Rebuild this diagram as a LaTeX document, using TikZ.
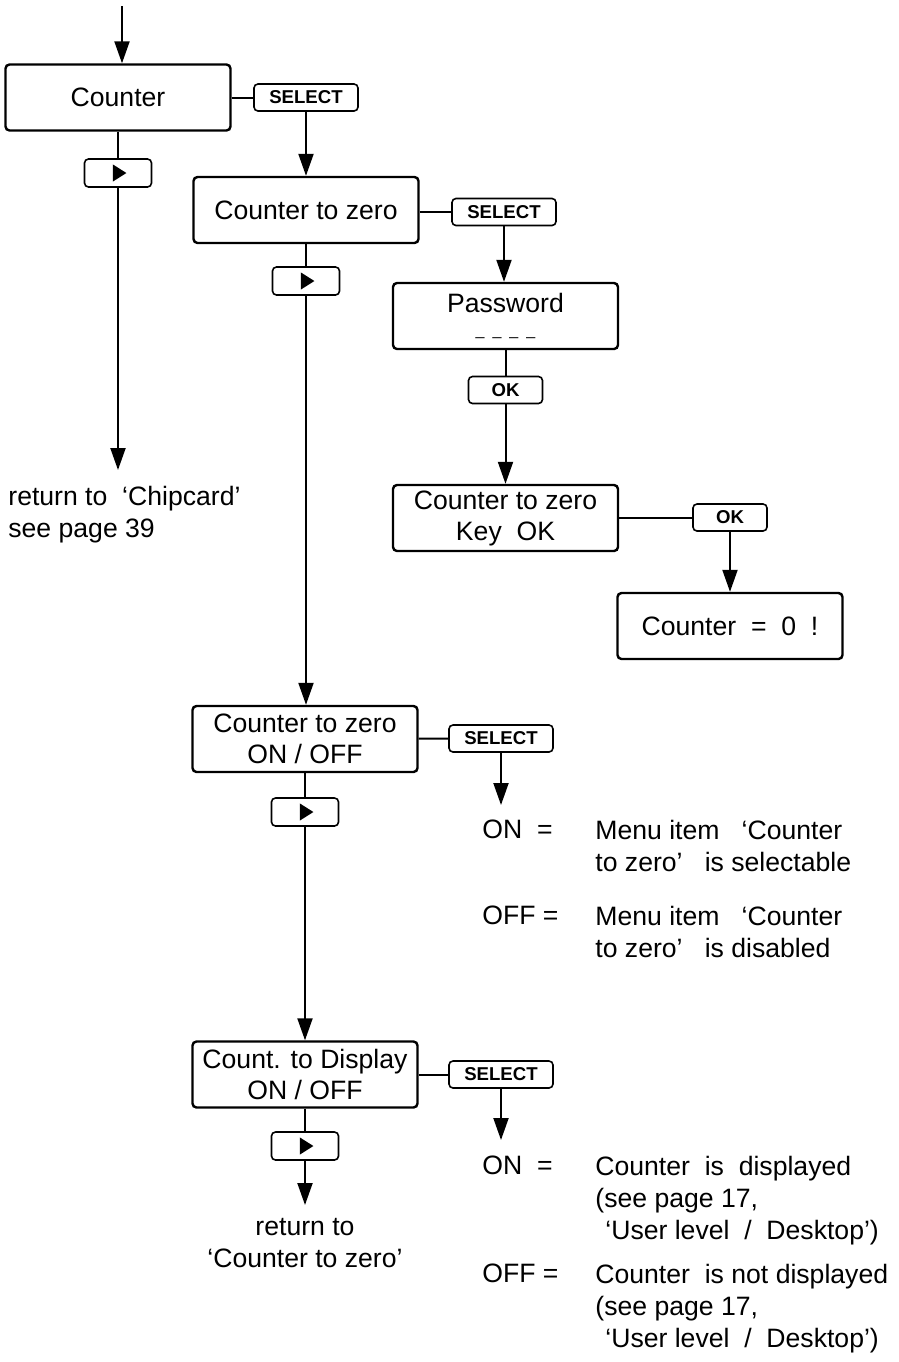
\documentclass[tikz,border=0pt]{standalone}
\usepackage{fontspec}
\setmainfont{Liberation Sans}
\usetikzlibrary{arrows.meta}

\begin{document}
\begin{tikzpicture}[x=0.5pt,y=-0.5pt,
  menubox/.style={draw, line width=1.2pt, rounded corners=2pt, minimum width=112.5pt, minimum height=33pt, inner sep=1pt, align=center, font=\fontsize{13.3}{15.5}\selectfont},
  keybox/.style={draw, line width=0.8pt, rounded corners=2pt, minimum height=13.5pt, inner sep=0pt, font=\fontsize{9.3}{9.3}\selectfont\bfseries},
  selkey/.style={keybox, minimum width=52pt},
  okkey/.style={keybox, minimum width=37pt},
  playkey/.style={keybox, minimum width=33.5pt, minimum height=14pt, path picture={\fill[sharp corners] ([xshift=-2.6pt]path picture bounding box.center) ++(0,4.3pt) -- ++(6.8pt,-4.3pt) -- ++(-6.8pt,-4.3pt) -- cycle;}},
  note/.style={inner sep=0pt, align=left, font=\fontsize{13.3}{16}\selectfont},
  link/.style={line width=1pt},
  arr/.style={link, -{Triangle[length=11pt,width=7.5pt]}}]
  \useasboundingbox (0,0) rectangle (899,1362);

  \node[menubox] (cnt) at (118,97.5) {Counter};
  \node[selkey] (sel1) at (306,97.5) {SELECT};
  \node[playkey] (play1) at (118,173) {};
  \node[menubox] (cz) at (306,210) {Counter to zero};
  \node[selkey] (sel2) at (504,212) {SELECT};
  \node[playkey] (play2) at (306,281) {};
  \node[menubox] (pw) at (505.5,316) {Password\\[-4pt]{\fontsize{8}{8}\selectfont\_\hspace{4pt}\_\hspace{4pt}\_\hspace{4pt}\_}};
  \node[okkey] (ok1) at (505.5,390) {OK};
  \node[menubox] (kz) at (505.5,518) {Counter to zero\\Key~~OK};
  \node[okkey] (ok2) at (730,517.5) {OK};
  \node[menubox] (c0) at (730,626) {Counter~~=~~0~~!};
  \node[menubox] (oz) at (305,739) {Counter to zero\\ON / OFF};
  \node[selkey] (sel3) at (501,738.5) {SELECT};
  \node[playkey] (play3) at (305,812) {};
  \node[menubox] (cd) at (305,1074.5) {Count. to Display\\ON / OFF};
  \node[selkey] (sel4) at (501,1074.5) {SELECT};
  \node[playkey] (play4) at (305,1146) {};

  \coordinate (entry) at (122,6);
  \coordinate (back1) at (118,470);
  \coordinate (sel3end) at (501,805);
  \coordinate (sel4end) at (501,1140);
  \coordinate (back2) at (305,1205);

  \node[note, anchor=north west] (ret1) at (8,486) {return to~~`Chipcard'\\see page 39};
  \node[note, anchor=north, align=center] (ret2) at (305,1218) {return to\\`Counter to zero'};
  \node[note, anchor=north west] (on1) at (482,820) {ON~~=};
  \node[note, anchor=north west] (on1txt) at (595,820) {Menu item~~~`Counter\\to zero'~~~is selectable};
  \node[note, anchor=north west] (off1) at (482,906) {OFF =};
  \node[note, anchor=north west] (off1txt) at (595,906) {Menu item~~~`Counter\\to zero'~~~is disabled};
  \node[note, anchor=north west] (on2) at (482,1156) {ON~~=};
  \node[note, anchor=north west] (on2txt) at (595,1156) {Counter~~is~~displayed\\(see page 17,\\\hspace{5pt}`User level~~/~~Desktop')};
  \node[note, anchor=north west] (off2) at (482,1264) {OFF =};
  \node[note, anchor=north west] (off2txt) at (595,1264) {Counter~~is not displayed\\(see page 17,\\\hspace{5pt}`User level~~/~~Desktop')};

  \draw[arr] (entry) -- (entry |- cnt.north);
  \draw[link] (cnt) -- (sel1);
  \draw[arr] (sel1) -- (sel1 |- cz.north);
  \draw[link] (cnt) -- (play1);
  \draw[arr] (play1) -- (back1);
  \draw[link] (cz.east |- sel2) -- (sel2);
  \draw[arr] (sel2) -- (sel2 |- pw.north);
  \draw[link] (pw) -- (ok1);
  \draw[arr] (ok1) -- (ok1 |- kz.north);
  \draw[link] (kz.east |- ok2) -- (ok2);
  \draw[arr] (ok2) -- (ok2 |- c0.north);
  \draw[link] (cz) -- (play2);
  \draw[arr] (play2) -- (play2 |- oz.north);
  \draw[link] (oz) -- (sel3);
  \draw[arr] (sel3) -- (sel3end);
  \draw[link] (oz) -- (play3);
  \draw[arr] (play3) -- (play3 |- cd.north);
  \draw[link] (cd) -- (sel4);
  \draw[arr] (sel4) -- (sel4end);
  \draw[link] (cd) -- (play4);
  \draw[arr] (play4) -- (back2);
\end{tikzpicture}
\end{document}
